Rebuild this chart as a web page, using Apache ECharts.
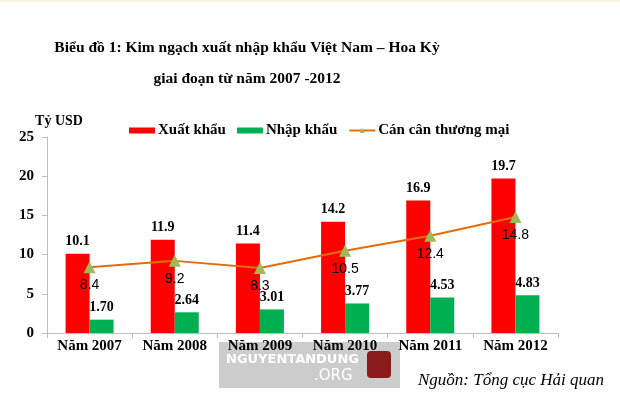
<!DOCTYPE html>
<html><head><meta charset="utf-8">
<script src="https://cdn.jsdelivr.net/npm/echarts@6/dist/echarts.min.js"></script>
<style>html,body{margin:0;padding:0;background:#fff}#c{width:620px;height:401px}</style>
</head><body><div id="c"></div>
<script>
const categories = ['Năm 2007','Năm 2008','Năm 2009','Năm 2010','Năm 2011','Năm 2012'];
const exportValues = [10.1, 11.9, 11.4, 14.2, 16.9, 19.7];
const importValues = [1.70, 2.64, 3.01, 3.77, 4.53, 4.83];
const balanceValues = [8.4, 9.2, 8.3, 10.5, 12.4, 14.8];
const yTicks = [0, 5, 10, 15, 20, 25];

const serif = '"Liberation Serif","Times New Roman",serif';
const sans = '"Liberation Sans",Arial,sans-serif';
const chart = echarts.init(document.getElementById('c'));
chart.setOption({
  animation: false,
  backgroundColor: '#fff',
  title: {
    text: 'Biểu đồ 1: Kim ngạch xuất nhập khẩu Việt Nam – Hoa Kỳ\ngiai đoạn từ năm 2007 -2012',
    left: 242, top: 27, textAlign: 'center',
    textStyle: {fontFamily: serif, fontWeight: 'bold', fontSize: 15.5, color: '#000', lineHeight: 31}
  },
  legend: {
    top: 118, left: 124, itemGap: 11, itemWidth: 26, itemHeight: 6,
    textStyle: {fontFamily: serif, fontWeight: 'bold', fontSize: 15, color: '#000', padding:[0,0,0,-2]},
    data: [
      {name: 'Xuất khẩu', icon: 'rect'},
      {name: 'Nhập khẩu', icon: 'rect'},
      {name: 'Cán cân thương mại'}
    ]
  },
  grid: {left: 47, right: 62, top: 137, bottom: 68},
  xAxis: {
    type: 'category', data: categories, z: 5,
    axisLine: {lineStyle: {color: '#bfbfbf'}},
    axisTick: {show: true, length: 5, lineStyle: {color: '#bfbfbf'}},
    axisLabel: {fontFamily: serif, fontWeight: 'bold', fontSize: 15, color: '#000', margin: 6}
  },
  yAxis: {
    type: 'value', min: 0, max: 25, interval: 5,
    name: 'Tỷ USD', nameLocation: 'end', nameGap: 9,
    nameTextStyle: {fontFamily: serif, fontWeight: 'bold', fontSize: 14, color: '#000', align: 'center', padding: [0, 0, 0, 24]},
    axisLine: {show: true, lineStyle: {color: '#bfbfbf'}},
    axisTick: {show: true, length: 5, lineStyle: {color: '#bfbfbf'}},
    splitLine: {show: false},
    axisLabel: {fontFamily: serif, fontWeight: 'bold', fontSize: 15, color: '#000', margin: 13,
      formatter: v => yTicks.includes(v) ? String(v) : ''}
  },
  series: [
    {name: 'Xuất khẩu', type: 'bar', data: exportValues, barWidth: 24, barGap: '0%',
      itemStyle: {color: '#ff0000'},
      label: {show: true, position: 'top', distance: 5, fontFamily: serif, fontWeight: 'bold', fontSize: 14, color: '#000'}},
    {name: 'Nhập khẩu', type: 'bar', data: importValues, barWidth: 24,
      itemStyle: {color: '#00b050'},
      label: {show: true, position: 'top', distance: 5, fontFamily: serif, fontWeight: 'bold', fontSize: 14, color: '#000',
        formatter: p => p.value.toFixed(2)}},
    {name: 'Cán cân thương mại', type: 'line', data: balanceValues,
      symbol: 'triangle', symbolSize: 12,
      lineStyle: {color: '#e46c0a', width: 2},
      itemStyle: {color: '#9bbb59'},
      label: {show: true, position: 'bottom', distance: 5, fontFamily: sans, fontSize: 14, color: '#000'}}
  ],
  graphic: [
    {type: 'rect', left: 0, top: 0, shape: {width: 620, height: 2}, style: {fill: '#fdf6dc'}},
    {type: 'rect', left: 219, top: 342, shape: {width: 181, height: 46}, style: {fill: '#cccccc'}, z: -10},
    {type: 'text', left: 226, top: 353, style: {text: 'NGUYENTANDUNG', fill: '#fff', font: 'bold 13px "DejaVu Sans"'}, z: -9},
    {type: 'text', left: 314, top: 369, style: {text: '.ORG', fill: '#fff', font: '15px "DejaVu Sans"'}, z: -9},
    {type: 'rect', left: 367, top: 351, shape: {width: 24, height: 27, r: 4}, style: {fill: '#8b1a1a'}, z: -9},
    {type: 'text', left: 418, top: 372, style: {text: 'Nguồn: Tổng cục Hải quan', fill: '#000', font: 'italic 17px "Liberation Serif"'}}
  ]
});
</script></body></html>
